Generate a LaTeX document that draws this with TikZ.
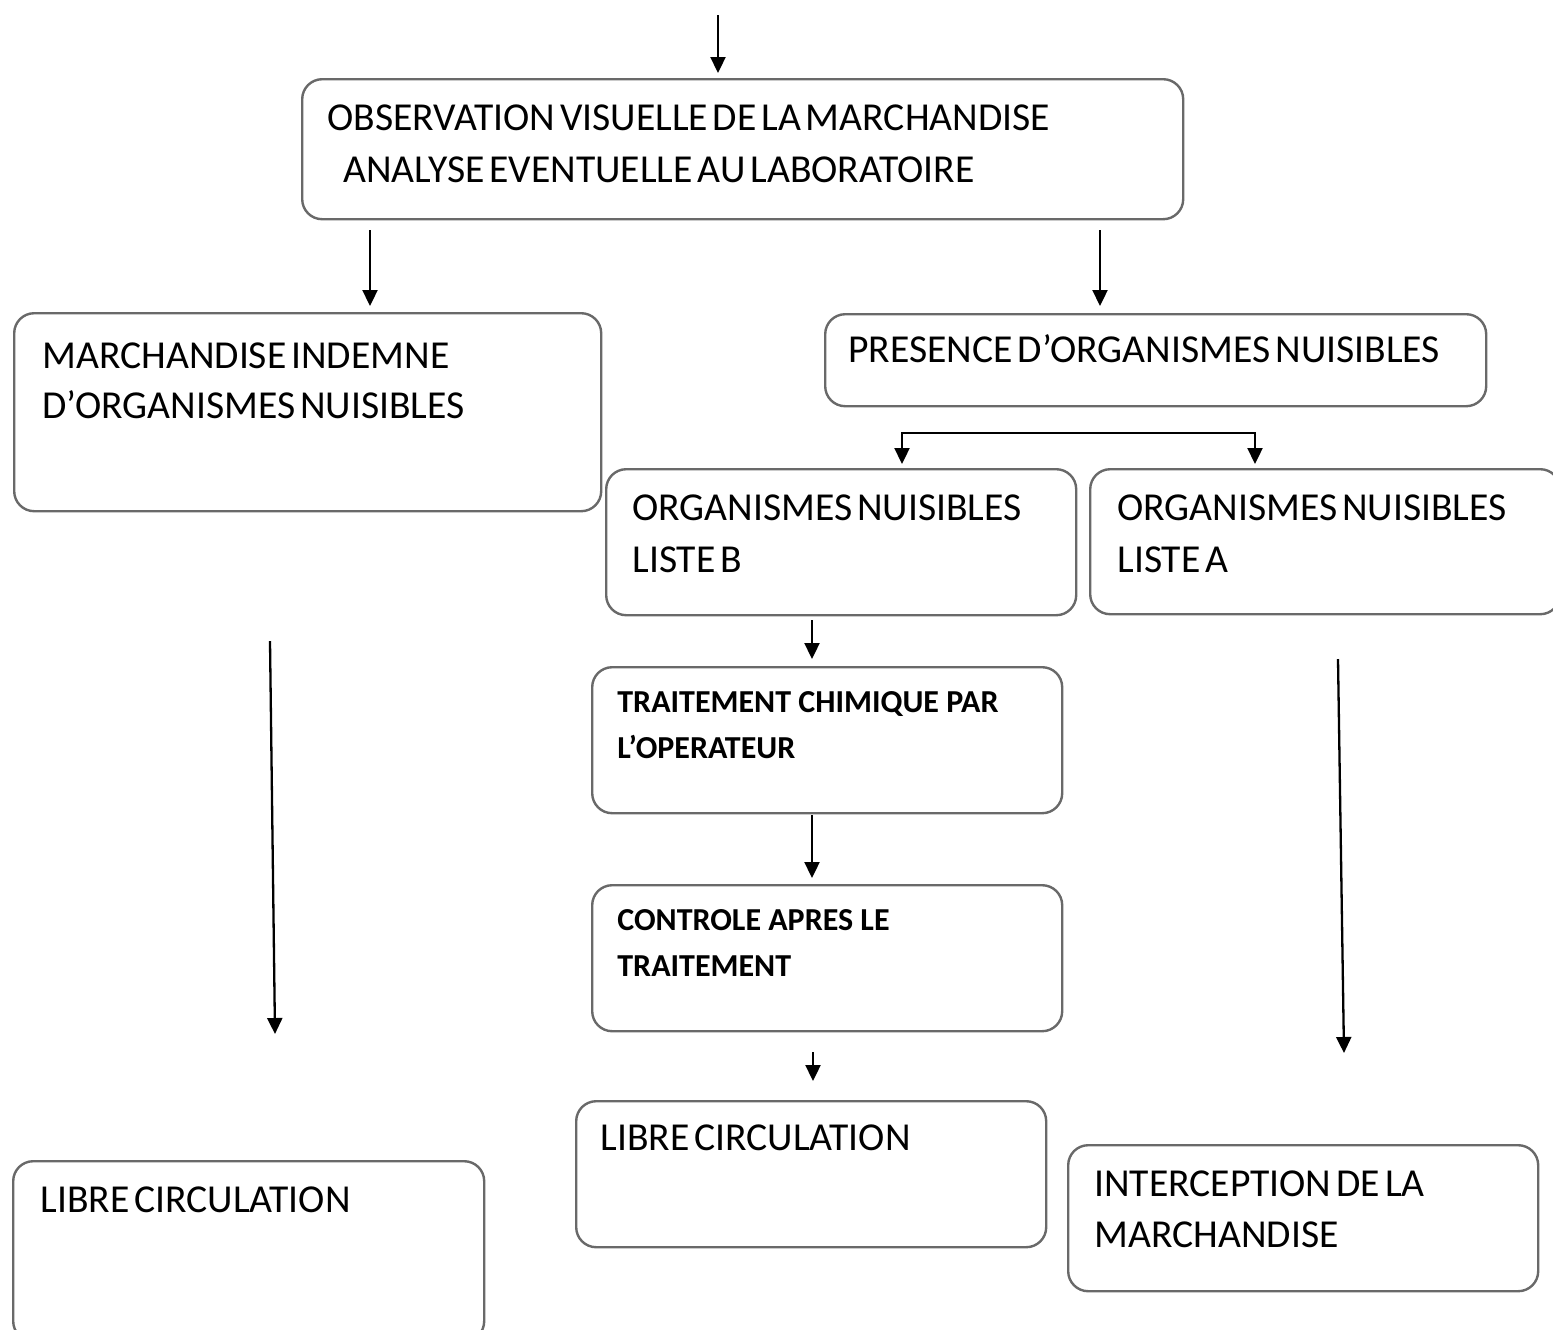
\documentclass[tikz,border=0pt]{standalone}
\usepackage{fontspec}
\setmainfont{Carlito}[WordSpace=0.55]
\newfontfamily\plainf{Carlito}
\usetikzlibrary{arrows.meta}
\definecolor{boxline}{RGB}{105,105,105}
\tikzset{
  x=0.5pt, y=-0.5pt,
  box/.style={draw=boxline, line width=1.2pt, rounded corners=10pt, rectangle, inner sep=0pt, anchor=north west, fill=none},
  txt/.style={anchor=base west, inner sep=0pt, font=\fontsize{19.8pt}{24pt}\selectfont},
  btxt/.style={anchor=base west, inner sep=0pt, font=\plainf\fontsize{16pt}{19pt}\selectfont\bfseries},
  arr/.style={line width=1.15pt, -{Triangle[width=7.5pt,length=8pt]}},
  arrboth/.style={line width=1.15pt, {Triangle[width=7.5pt,length=8pt]}-{Triangle[width=7.5pt,length=8pt]}}
}
\begin{document}
\begin{tikzpicture}
\useasboundingbox (0,0) rectangle (1553,1329);
% boxes
\node[box, minimum width=440.5pt, minimum height=70pt] (obs) at (301,78) {};
\node[box, minimum width=293.5pt, minimum height=99pt] (indemne) at (13,312) {};
\node[box, minimum width=330.5pt, minimum height=46pt] (presence) at (824,313) {};
\node[box, minimum width=235pt, minimum height=73pt] (listeB) at (605,468) {};
\node[box, minimum width=235pt, minimum height=72.5pt] (listeA) at (1089,468) {};
\node[box, minimum width=235pt, minimum height=73pt] (trait) at (591,666) {};
\node[box, minimum width=235pt, minimum height=73pt] (ctrl) at (591,884) {};
\node[box, minimum width=235pt, minimum height=73pt] (libreM) at (575,1100) {};
\node[box, minimum width=235.5pt, minimum height=90pt] (libreL) at (12,1160) {};
\node[box, minimum width=235pt, minimum height=73pt] (interc) at (1067,1144) {};
% texts
\node[txt] (t1) at (327,130) {OBSERVATION VISUELLE DE LA MARCHANDISE};
\node[txt] (t2) at (343,182) {ANALYSE EVENTUELLE AU LABORATOIRE};
\node[txt] (t3) at (42,368) {MARCHANDISE INDEMNE};
\node[txt] (t4) at (42,418) {D’ORGANISMES NUISIBLES};
\node[txt] (t5) at (848,362) {PRESENCE D’ORGANISMES NUISIBLES};
\node[txt] (t6) at (632,520) {ORGANISMES NUISIBLES};
\node[txt] (t7) at (632,572) {LISTE B};
\node[txt] (t8) at (1117,520) {ORGANISMES NUISIBLES};
\node[txt] (t9) at (1117,572) {LISTE A};
\node[btxt] (t10) at (617,712) {TRAITEMENT CHIMIQUE PAR};
\node[btxt] (t11) at (617,758) {L’OPERATEUR};
\node[btxt] (t12) at (617,930) {CONTROLE APRES LE};
\node[btxt] (t13) at (617,976) {TRAITEMENT};
\node[txt] (t14) at (600,1150) {LIBRE CIRCULATION};
\node[txt] (t15) at (40,1212) {LIBRE CIRCULATION};
\node[txt] (t16) at (1094,1196) {INTERCEPTION DE LA};
\node[txt] (t17) at (1094,1247) {MARCHANDISE};
% connector end points
\coordinate (c0) at (718,15);
\coordinate (c0e) at (718,73);
\coordinate (c1) at (370,230);
\coordinate (c1e) at (370,306);
\coordinate (c2) at (1100,230);
\coordinate (c2e) at (1100,306);
\coordinate (fL) at (902,433);
\coordinate (fR) at (1255,433);
\coordinate (fLe) at (902,464);
\coordinate (fRe) at (1255,464);
\coordinate (c3) at (812,620);
\coordinate (c3e) at (812,659);
\coordinate (c4) at (812,815);
\coordinate (c4e) at (812,878);
\coordinate (c5) at (813,1052);
\coordinate (c5e) at (813,1081);
\coordinate (c6) at (270,641);
\coordinate (c6e) at (275,1034);
\coordinate (c7) at (1338,659);
\coordinate (c7e) at (1344,1053);
% connectors
\draw[arr] (c0) -- (c0e);
\draw[arr] (c1) -- (c1e);
\draw[arr] (c2) -- (c2e);
\draw[arrboth] (fLe) -- (fL) -- (fR) -- (fRe);
\draw[arr] (c3) -- (c3e);
\draw[arr] (c4) -- (c4e);
\draw[arr] (c5) -- (c5e);
\draw[arr] (c6) -- (c6e);
\draw[arr] (c7) -- (c7e);
\end{tikzpicture}
\end{document}
